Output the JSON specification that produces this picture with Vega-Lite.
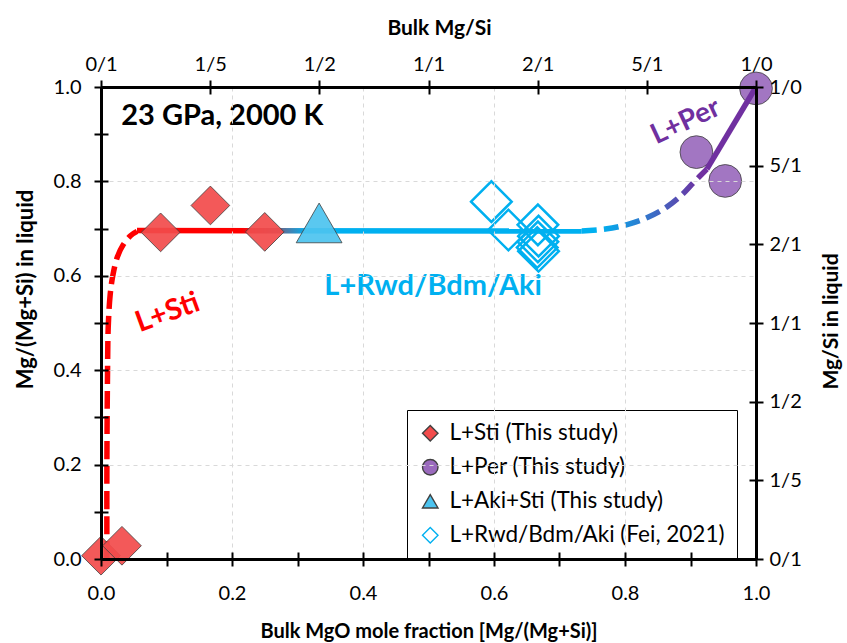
{
  "$schema": "https://vega.github.io/schema/vega-lite/v6.json",
  "width": 655,
  "height": 472,
  "autosize": "none",
  "padding": {"left": 101, "top": 87, "right": 91, "bottom": 84},
  "background": "white",
  "config": {
    "font": "Lato",
    "view": {"stroke": null},
    "axis": {"labelFont": "Lato", "titleFont": "Lato", "labelColor": "black", "titleColor": "black", "labelFontSize": 20, "titleFontSize": 19.5, "titleFontWeight": "bold", "labelFlush": false},
    "legend": {"labelFont": "Lato", "labelFontSize": 22.5, "labelColor": "black", "labelLimit": 400}
  },
  "datasets": {
    "points": [
      {"series": "L+Sti (This study)", "x": 0.0, "y": 0.007},
      {"series": "L+Sti (This study)", "x": 0.032, "y": 0.028},
      {"series": "L+Sti (This study)", "x": 0.091, "y": 0.692},
      {"series": "L+Sti (This study)", "x": 0.167, "y": 0.749},
      {"series": "L+Sti (This study)", "x": 0.25, "y": 0.693},
      {"series": "L+Per (This study)", "x": 1.0, "y": 0.997},
      {"series": "L+Per (This study)", "x": 0.909, "y": 0.862},
      {"series": "L+Per (This study)", "x": 0.953, "y": 0.801},
      {"series": "L+Aki+Sti (This study)", "x": 0.333, "y": 0.712},
      {"series": "L+Rwd/Bdm/Aki (Fei, 2021)", "x": 0.596, "y": 0.757},
      {"series": "L+Rwd/Bdm/Aki (Fei, 2021)", "x": 0.622, "y": 0.697},
      {"series": "L+Rwd/Bdm/Aki (Fei, 2021)", "x": 0.667, "y": 0.708},
      {"series": "L+Rwd/Bdm/Aki (Fei, 2021)", "x": 0.668, "y": 0.684},
      {"series": "L+Rwd/Bdm/Aki (Fei, 2021)", "x": 0.667, "y": 0.672},
      {"series": "L+Rwd/Bdm/Aki (Fei, 2021)", "x": 0.666, "y": 0.66},
      {"series": "L+Rwd/Bdm/Aki (Fei, 2021)", "x": 0.668, "y": 0.652}
    ],
    "stiCurve": [
      {"x": 0.009, "y": 0.0},
      {"x": 0.009, "y": 0.2},
      {"x": 0.01, "y": 0.4},
      {"x": 0.011, "y": 0.49},
      {"x": 0.014, "y": 0.56},
      {"x": 0.018, "y": 0.6},
      {"x": 0.025, "y": 0.64},
      {"x": 0.034, "y": 0.666},
      {"x": 0.045, "y": 0.685},
      {"x": 0.055, "y": 0.694}
    ],
    "plateau": [
      {"x": 0.055, "y": 0.6958},
      {"x": 0.734, "y": 0.6948}
    ],
    "rwdCurve": [
      {"x": 0.734, "y": 0.695},
      {"x": 0.77, "y": 0.699},
      {"x": 0.802, "y": 0.708},
      {"x": 0.835, "y": 0.724},
      {"x": 0.864, "y": 0.746},
      {"x": 0.888, "y": 0.773},
      {"x": 0.905, "y": 0.798},
      {"x": 0.925, "y": 0.826}
    ],
    "perLine": [
      {"x": 0.925, "y": 0.826},
      {"x": 1.0, "y": 1.0}
    ],
    "labels": [{"text": "23 GPa, 2000 K", "x": 0.031, "y": 0.938}],
    "stiLabel": [{"text": "L+Sti", "x": 0.1015, "y": 0.522}],
    "rwdLabel": [{"text": "L+Rwd/Bdm/Aki", "x": 0.507, "y": 0.578}],
    "perLabel": [{"text": "L+Per", "x": 0.893, "y": 0.926}]
  },
  "resolve": {"axis": {"x": "independent", "y": "independent"}},
  "layer": [
    {
      "data": {"name": "stiCurve"},
      "mark": {"type": "line", "stroke": "#ff0000", "strokeWidth": 5.5, "strokeDash": [18, 7], "interpolate": "catmull-rom"},
      "encoding": {
        "x": {"field": "x", "type": "quantitative", "scale": {"domain": [0, 1], "nice": false, "zero": false},
          "axis": {"orient": "bottom", "values": [0, 0.1, 0.2, 0.3, 0.4, 0.5, 0.6, 0.7, 0.8, 0.9, 1], "ticks": true, "tickSize": 7, "tickWidth": 2, "tickColor": "black", "labels": false, "domain": false, "grid": false, "title": null, "zindex": 2}},
        "y": {"field": "y", "type": "quantitative", "scale": {"domain": [0, 1], "nice": false, "zero": false},
          "axis": {"orient": "left", "values": [0, 0.1, 0.2, 0.3, 0.4, 0.5, 0.6, 0.7, 0.8, 0.9, 1], "ticks": true, "tickSize": 7, "tickWidth": 2, "tickColor": "black", "labels": false, "domain": false, "grid": false, "title": null, "zindex": 2}}
      }
    },
    {
      "data": {"name": "plateau"},
      "mark": {"type": "line", "strokeWidth": 5.5,
        "stroke": {"gradient": "linear", "x1": 0, "y1": 0, "x2": 1, "y2": 0,
          "stops": [{"offset": 0, "color": "#ff0000"}, {"offset": 0.236, "color": "#ff0000"}, {"offset": 0.381, "color": "#00b0f0"}, {"offset": 1, "color": "#00b0f0"}]}},
      "encoding": {
        "x": {"field": "x", "type": "quantitative", "scale": {"domain": [0, 1], "nice": false, "zero": false},
          "axis": {"orient": "bottom", "values": [0, 0.1, 0.2, 0.3, 0.4, 0.5, 0.6, 0.7, 0.8, 0.9, 1], "ticks": true, "tickSize": -7, "tickWidth": 2, "tickColor": "black", "labels": false, "domain": false, "grid": false, "title": null, "zindex": 2}},
        "y": {"field": "y", "type": "quantitative", "scale": {"domain": [0, 1], "nice": false, "zero": false},
          "axis": {"orient": "left", "values": [0, 0.1, 0.2, 0.3, 0.4, 0.5, 0.6, 0.7, 0.8, 0.9, 1], "ticks": true, "tickSize": -7, "tickWidth": 2, "tickColor": "black", "labels": false, "domain": false, "grid": false, "title": null, "zindex": 2}}
      }
    },
    {
      "data": {"name": "points"},
      "transform": [{"filter": "datum.series === 'L+Sti (This study)'"}],
      "mark": {"type": "point", "filled": true, "opacity": 1, "fillOpacity": 0.92, "size": 1500, "strokeWidth": 0.8},
      "encoding": {
        "x": {"field": "x", "type": "quantitative", "scale": {"domain": [0, 1], "nice": false, "zero": false},
          "axis": {"orient": "bottom", "values": [0, 0.2, 0.4, 0.6, 0.8, 1], "format": ".1f", "grid": true, "gridDash": [4, 4], "gridColor": "#d9d9d9", "gridWidth": 1, "ticks": false, "tickSize": 0, "domain": true, "domainColor": "black", "domainWidth": 3, "labelPadding": 24, "title": "Bulk MgO mole fraction [Mg/(Mg+Si)]", "titleFontSize": 20, "titlePadding": 18, "zindex": 1}},
        "y": {"field": "y", "type": "quantitative", "scale": {"domain": [0, 1], "nice": false, "zero": false},
          "axis": {"orient": "left", "values": [0, 0.2, 0.4, 0.6, 0.8, 1], "format": ".1f", "grid": true, "gridDash": [4, 4], "gridColor": "#d9d9d9", "gridWidth": 1, "ticks": false, "tickSize": 0, "domain": true, "domainColor": "black", "domainWidth": 3, "labelPadding": 20, "title": "Mg/(Mg+Si) in liquid", "titleFontSize": 22, "titleY": 202, "titlePadding": 16, "zindex": 1}},
        "shape": {"field": "series", "type": "nominal",
          "scale": {"domain": ["L+Sti (This study)", "L+Per (This study)", "L+Aki+Sti (This study)", "L+Rwd/Bdm/Aki (Fei, 2021)"], "range": ["diamond", "circle", "triangle-up", "diamond"]},
          "legend": {"orient": "none", "legendX": 306, "legendY": 323, "title": null, "symbolSize": 240, "symbolStrokeWidth": 1.4, "padding": 12, "rowPadding": 11, "labelOffset": 8, "strokeColor": "black", "fillColor": "white"}},
        "fill": {"field": "series", "type": "nominal",
          "scale": {"domain": ["L+Sti (This study)", "L+Per (This study)", "L+Aki+Sti (This study)", "L+Rwd/Bdm/Aki (Fei, 2021)"], "range": ["#f24b4b", "#9a6abd", "#4cc3ef", "#ffffff"]}},
        "stroke": {"field": "series", "type": "nominal",
          "scale": {"domain": ["L+Sti (This study)", "L+Per (This study)", "L+Aki+Sti (This study)", "L+Rwd/Bdm/Aki (Fei, 2021)"], "range": ["#404040", "#404040", "#404040", "#00b0f0"]}}
      }
    },
    {
      "data": {"name": "points"},
      "transform": [{"filter": "datum.series === 'L+Aki+Sti (This study)'"}],
      "mark": {"type": "point", "filled": true, "opacity": 1, "fillOpacity": 0.92, "size": 2100, "strokeWidth": 0.8},
      "encoding": {
        "x": {"field": "x", "type": "quantitative", "scale": {"domain": [0, 1], "nice": false, "zero": false}, "axis": null},
        "y": {"field": "y", "type": "quantitative", "scale": {"domain": [0, 1], "nice": false, "zero": false}, "axis": null},
        "shape": {"field": "series", "type": "nominal"},
        "fill": {"field": "series", "type": "nominal"},
        "stroke": {"field": "series", "type": "nominal"}
      }
    },
    {
      "data": {"name": "points"},
      "transform": [{"filter": "datum.series === 'L+Rwd/Bdm/Aki (Fei, 2021)'"}],
      "mark": {"type": "point", "filled": false, "opacity": 1, "fillOpacity": 0, "size": 1650, "strokeWidth": 2.5},
      "encoding": {
        "x": {"field": "x", "type": "quantitative", "scale": {"domain": [0, 1], "nice": false, "zero": false}, "axis": null},
        "y": {"field": "y", "type": "quantitative", "scale": {"domain": [0, 1], "nice": false, "zero": false}, "axis": null},
        "shape": {"field": "series", "type": "nominal"},
        "fill": {"field": "series", "type": "nominal"},
        "stroke": {"field": "series", "type": "nominal"}
      }
    },
    {
      "data": {"name": "points"},
      "transform": [{"filter": "datum.series === 'L+Per (This study)'"}],
      "mark": {"type": "point", "filled": true, "opacity": 1, "fillOpacity": 0.92, "size": 1075, "strokeWidth": 0.8},
      "encoding": {
        "x": {"field": "x", "type": "quantitative", "scale": {"domain": [0, 1], "nice": false, "zero": false}, "axis": null},
        "y": {"field": "y", "type": "quantitative", "scale": {"domain": [0, 1], "nice": false, "zero": false}, "axis": null},
        "shape": {"field": "series", "type": "nominal"},
        "fill": {"field": "series", "type": "nominal"},
        "stroke": {"field": "series", "type": "nominal"}
      }
    },
    {
      "data": {"name": "rwdCurve"},
      "mark": {"type": "line", "strokeWidth": 5.5, "strokeDash": [15, 7], "interpolate": "catmull-rom",
        "stroke": {"gradient": "linear", "x1": 0, "y1": 0, "x2": 1, "y2": 0,
          "stops": [{"offset": 0, "color": "#00b0f0"}, {"offset": 0.15, "color": "#00b0f0"}, {"offset": 0.95, "color": "#7030a0"}, {"offset": 1, "color": "#7030a0"}]}},
      "encoding": {
        "x": {"field": "x", "type": "quantitative", "scale": {"domain": [0, 1], "nice": false, "zero": false},
          "axis": {"orient": "top", "values": [0, 0.16667, 0.33333, 0.5, 0.66667, 0.83333, 1],
            "labelExpr": "datum.value < 0.01 ? '0/1' : datum.value < 0.2 ? '1/5' : datum.value < 0.4 ? '1/2' : datum.value < 0.55 ? '1/1' : datum.value < 0.7 ? '2/1' : datum.value < 0.9 ? '5/1' : '1/0'",
            "ticks": true, "tickSize": 7, "tickWidth": 2, "tickColor": "black", "domain": true, "domainColor": "black", "domainWidth": 3, "grid": false, "labelPadding": 6, "title": "Bulk Mg/Si", "titleFontSize": 21, "titleX": 338, "titlePadding": 16, "zindex": 2}},
        "y": {"field": "y", "type": "quantitative", "scale": {"domain": [0, 1], "nice": false, "zero": false},
          "axis": {"orient": "right", "values": [0, 0.16667, 0.33333, 0.5, 0.66667, 0.83333, 1],
            "labelExpr": "datum.value < 0.01 ? '0/1' : datum.value < 0.2 ? '1/5' : datum.value < 0.4 ? '1/2' : datum.value < 0.55 ? '1/1' : datum.value < 0.7 ? '2/1' : datum.value < 0.9 ? '5/1' : '1/0'",
            "ticks": true, "tickSize": 7, "tickWidth": 2, "tickColor": "black", "domain": true, "domainColor": "black", "domainWidth": 3, "grid": false, "labelPadding": 6, "title": "Mg/Si in liquid", "titleFontSize": 21, "titleAngle": 270, "titleY": 234, "titlePadding": 40, "zindex": 2}}
      }
    },
    {
      "data": {"name": "perLine"},
      "mark": {"type": "line", "stroke": "#7030a0", "strokeWidth": 5.5},
      "encoding": {
        "x": {"field": "x", "type": "quantitative", "scale": {"domain": [0, 1], "nice": false, "zero": false},
          "axis": {"orient": "top", "values": [0, 0.16667, 0.33333, 0.5, 0.66667, 0.83333, 1], "ticks": true, "tickSize": -7, "tickWidth": 2, "tickColor": "black", "labels": false, "domain": false, "grid": false, "title": null, "zindex": 2}},
        "y": {"field": "y", "type": "quantitative", "scale": {"domain": [0, 1], "nice": false, "zero": false},
          "axis": {"orient": "right", "values": [0, 0.16667, 0.33333, 0.5, 0.66667, 0.83333, 1], "ticks": true, "tickSize": -7, "tickWidth": 2, "tickColor": "black", "labels": false, "domain": false, "grid": false, "title": null, "zindex": 2}}
      }
    },
    {
      "data": {"name": "labels"},
      "mark": {"type": "text", "align": "left", "baseline": "middle", "fontSize": 29, "fontWeight": "bold", "color": "black", "font": "Lato"},
      "encoding": {
        "x": {"field": "x", "type": "quantitative", "scale": {"domain": [0, 1], "nice": false, "zero": false}, "axis": null},
        "y": {"field": "y", "type": "quantitative", "scale": {"domain": [0, 1], "nice": false, "zero": false}, "axis": null},
        "text": {"field": "text"}
      }
    },
    {
      "data": {"name": "stiLabel"},
      "mark": {"type": "text", "align": "center", "baseline": "middle", "fontSize": 29, "fontWeight": "bold", "color": "#ff0000", "angle": 340, "font": "Lato"},
      "encoding": {
        "x": {"field": "x", "type": "quantitative", "scale": {"domain": [0, 1], "nice": false, "zero": false}, "axis": null},
        "y": {"field": "y", "type": "quantitative", "scale": {"domain": [0, 1], "nice": false, "zero": false}, "axis": null},
        "text": {"field": "text"}
      }
    },
    {
      "data": {"name": "rwdLabel"},
      "mark": {"type": "text", "align": "center", "baseline": "middle", "fontSize": 29, "fontWeight": "bold", "color": "#00b0f0", "font": "Lato"},
      "encoding": {
        "x": {"field": "x", "type": "quantitative", "scale": {"domain": [0, 1], "nice": false, "zero": false}, "axis": null},
        "y": {"field": "y", "type": "quantitative", "scale": {"domain": [0, 1], "nice": false, "zero": false}, "axis": null},
        "text": {"field": "text"}
      }
    },
    {
      "data": {"name": "perLabel"},
      "mark": {"type": "text", "align": "center", "baseline": "middle", "fontSize": 28, "fontWeight": "bold", "color": "#7030a0", "angle": 335, "font": "Lato"},
      "encoding": {
        "x": {"field": "x", "type": "quantitative", "scale": {"domain": [0, 1], "nice": false, "zero": false}, "axis": null},
        "y": {"field": "y", "type": "quantitative", "scale": {"domain": [0, 1], "nice": false, "zero": false}, "axis": null},
        "text": {"field": "text"}
      }
    }
  ]
}
